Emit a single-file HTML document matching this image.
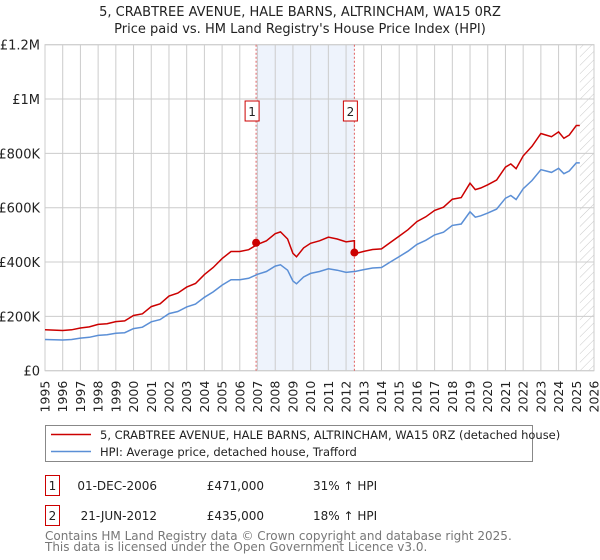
<!DOCTYPE html>
<html><head><meta charset="utf-8"><style>
body{margin:0;background:#fff;font-family:"Liberation Sans","DejaVu Sans",sans-serif;}
#wrap{position:relative;width:600px;height:560px;overflow:hidden}
svg text{font-family:"DejaVu Sans","Liberation Sans",sans-serif}
</style></head><body>
<div id="wrap">
<svg id="chart" width="600" height="560"></svg>
</div>
<script>
const years=[1995,1995.5,1996,1996.5,1997,1997.5,1998,1998.5,1999,1999.5,2000,2000.5,2001,2001.5,2002,2002.5,2003,2003.5,2004,2004.5,2005,2005.5,2006,2006.5,2007,2007.5,2008,2008.3,2008.7,2009,2009.2,2009.6,2010,2010.5,2011,2011.5,2012,2012.45,2012.5,2013,2013.5,2014,2014.5,2015,2015.5,2016,2016.5,2017,2017.5,2018,2018.5,2019,2019.3,2019.6,2020,2020.5,2021,2021.3,2021.6,2022,2022.5,2023,2023.3,2023.6,2024,2024.3,2024.6,2025,2025.2];
const hpi=[115,114,113,115,120,123,130,132,138,140,155,160,180,188,210,218,235,245,270,290,315,335,335,340,355,365,385,390,370,330,320,345,358,365,375,370,362,365,365,372,378,380,400,420,440,465,480,500,510,535,540,585,565,570,580,595,635,645,630,670,700,740,735,730,745,725,735,765,765];
const sales=[{t:2006.92,v:471,label:"1"},{t:2012.47,v:435,label:"2"}];
const yTicks=[0,200,400,600,800,1000,1200];
const yTickLabels=["£0","£200K","£400K","£600K","£800K","£1M","£1.2M"];
const xTicks=[1995,1996,1997,1998,1999,2000,2001,2002,2003,2004,2005,2006,2007,2008,2009,2010,2011,2012,2013,2014,2015,2016,2017,2018,2019,2020,2021,2022,2023,2024,2025,2026];

const L=45,R=594,T=44.7,B=370.7,NS="http://www.w3.org/2000/svg";
const X=t=>L+(t-1995)/31*(R-L);
const Y=v=>B-v/1200*(B-T);
const svg=document.getElementById('chart');
function mk(tag,a,parent){const e=document.createElementNS(NS,tag);for(const k in a)e.setAttribute(k,a[k]);(parent||svg).appendChild(e);return e;}

const defs=mk('defs',{});
const pat=mk('pattern',{id:'hatch',width:6,height:6,patternUnits:'userSpaceOnUse',patternTransform:'rotate(45)'},defs);
mk('line',{x1:0,y1:0,x2:0,y2:6,stroke:'#bbb','stroke-width':0.8},pat);

const sh=mk('rect',{x:X(sales[0].t),y:T,width:X(sales[1].t)-X(sales[0].t),height:B-T,fill:'#eef3fc'});


const hz=mk('rect',{x:X(2025.2),y:T,width:R-X(2025.2),height:B-T,fill:'url(#hatch)'});



yTicks.forEach((v,i)=>{
 const g=mk('line',{x1:L,x2:R,y1:Y(v),y2:Y(v),stroke:'#ccc','stroke-width':1});
 
 
 const t=mk('text',{x:L-5,y:Y(v)+5,'text-anchor':'end','font-size':13,fill:'#222'});
 t.textContent=yTickLabels[i];
 
 
});
xTicks.forEach(yr=>{
 const g=mk('line',{x1:X(yr),x2:X(yr),y1:T,y2:B,stroke:'#ccc','stroke-width':1});
 
 
 const t=mk('text',{x:0,y:0,'text-anchor':'end','font-size':12.5,fill:'#222',transform:`translate(${X(yr)+4.5},${B+10}) rotate(-90)`});
 t.textContent=yr;
 
 
});
mk('rect',{x:L,y:T,width:R-L,height:B-T,fill:'none',stroke:'#ccc'});

sales.forEach(s=>{
 const l=mk('line',{x1:X(s.t),x2:X(s.t),y1:T,y2:B,stroke:'#e06060','stroke-width':1,'stroke-dasharray':'2,2'});
 
 
 const bx=X(s.t)-11;
 const r=mk('rect',{x:bx,y:101,width:14,height:20,fill:'#fff',stroke:'#c00','stroke-width':1});
 
 
 const t=mk('text',{x:bx+7,y:116,'text-anchor':'middle','font-size':12,fill:'#222'});
 t.textContent=s.label;
 
 
});

const hp=years.map((t,i)=>`${X(t).toFixed(1)},${Y(hpi[i]).toFixed(1)}`).join(' ');
const hl=mk('polyline',{points:hp,fill:'none',stroke:'#5b8fd6','stroke-width':1.5});


const pts=[];
years.forEach((t,i)=>{
 if(t<sales[1].t) pts.push([t,hpi[i]*1.31]);
 else {
  if(pts.length && pts[pts.length-1][0]<sales[1].t && pts[pts.length-1][1]>sales[1].v+10){pts.push([sales[1].t,pts[pts.length-1][1]]);pts.push([sales[1].t,sales[1].v]);}
  pts.push([t,hpi[i]*1.18]);
 }
});
const pl=mk('polyline',{points:pts.map(p=>`${X(p[0]).toFixed(1)},${Y(p[1]).toFixed(1)}`).join(' '),fill:'none',stroke:'#cc0000','stroke-width':1.5});


sales.forEach(s=>{
 const c=mk('circle',{cx:X(s.t),cy:Y(s.v),r:4,fill:'#cc0000'});
 
 
});

const t1=mk('text',{x:300,y:16,'text-anchor':'middle','font-size':13,fill:'#222'});
t1.textContent="5, CRABTREE AVENUE, HALE BARNS, ALTRINCHAM, WA15 0RZ";


const t2=mk('text',{x:300,y:33,'text-anchor':'middle','font-size':13,fill:'#222'});
t2.textContent="Price paid vs. HM Land Registry's House Price Index (HPI)";



const lg=mk('rect',{x:45.5,y:425.5,width:487,height:36,fill:'#fff',stroke:'#888'});


mk('line',{x1:51,x2:91,y1:434.5,y2:434.5,stroke:'#cc0000','stroke-width':1.5});
mk('line',{x1:51,x2:91,y1:451.5,y2:451.5,stroke:'#5b8fd6','stroke-width':1.5});
const le1=mk('text',{x:100,y:439,'font-size':11.5,fill:'#222'});
le1.textContent="5, CRABTREE AVENUE, HALE BARNS, ALTRINCHAM, WA15 0RZ (detached house)";


const le2=mk('text',{x:100,y:456,'font-size':11.5,fill:'#222'});
le2.textContent="HPI: Average price, detached house, Trafford";



const rows=[["1","01-DEC-2006","£471,000","31% ↑ HPI",475],["2","21-JUN-2012","£435,000","18% ↑ HPI",505]];
rows.forEach(r=>{
 const b=mk('rect',{x:45.5,y:r[4]+0.5,width:14,height:20,fill:'#fff',stroke:'#c00'});
 
 
 const a=mk('text',{x:52.5,y:r[4]+15,'text-anchor':'middle','font-size':12,fill:'#222'});a.textContent=r[0];
 const d=mk('text',{x:157,y:r[4]+15,'text-anchor':'end','font-size':12,fill:'#222'});d.textContent=r[1];
 
 
 const p=mk('text',{x:264,y:r[4]+15,'text-anchor':'end','font-size':12,fill:'#222'});p.textContent=r[2];
 
 
 const h=mk('text',{x:313,y:r[4]+15,'font-size':12,fill:'#222'});h.textContent=r[3];
 
 
});
const f1=mk('text',{x:45,y:540,'font-size':12,fill:'#777'});
f1.textContent="Contains HM Land Registry data © Crown copyright and database right 2025.";


const f2=mk('text',{x:45,y:551,'font-size':12,fill:'#777'});
f2.textContent="This data is licensed under the Open Government Licence v3.0.";


</script>
</body></html>
